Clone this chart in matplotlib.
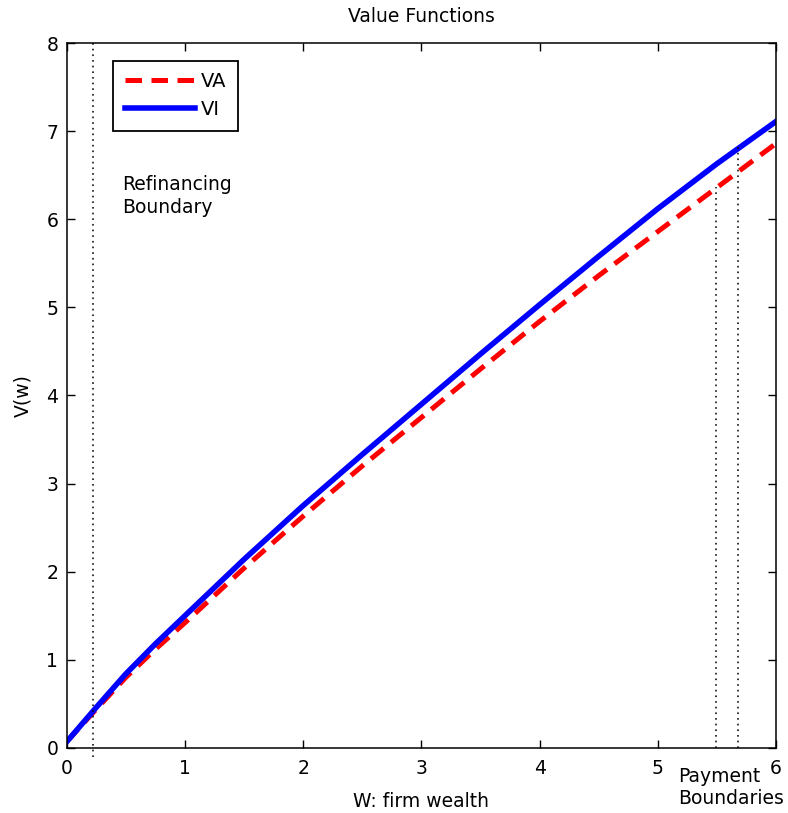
import numpy as np
import matplotlib
matplotlib.use("Agg")
import matplotlib.pyplot as plt

# firm wealth grid and value functions
w = [0.0, 0.25, 0.5, 0.75, 1.0, 1.5, 2.0, 2.5, 3.0, 3.5, 4.0, 4.5, 5.0, 5.5, 6.0]
VI = [0.07, 0.46, 0.84, 1.18, 1.50, 2.14, 2.75, 3.33, 3.90, 4.47, 5.03, 5.58, 6.12, 6.63, 7.11]
VA = [0.07, 0.44, 0.80, 1.12, 1.42, 2.04, 2.63, 3.20, 3.75, 4.30, 4.84, 5.36, 5.86, 6.36, 6.86]

# boundaries
refi_x = 0.22
pay_x = [5.49, 5.68]
pay_top = [6.37, 6.84]

xticks = [0, 1, 2, 3, 4, 5, 6]
yticks = [0, 1, 2, 3, 4, 5, 6, 7, 8]

plt.rcParams['font.family'] = ['DejaVu Sans']
plt.rcParams['font.size'] = 13.5

fig = plt.figure(figsize=(7.88, 8.13), dpi=100)
ax = fig.add_axes([0.0846, 0.080, 0.9002, 0.8671])

ax.plot(w, VA, color='red', lw=3.6, dashes=(3.3, 1.9), label='VA')
ax.plot(w, VI, color='blue', lw=4.0, label='VI')

# dotted boundary lines
dots = dict(color='black', lw=1.1, dashes=(1.1, 2.6))
ax.plot([refi_x, refi_x], [-0.1, 8], clip_on=False, **dots)
for x, top in zip(pay_x, pay_top):
    ax.plot([x, x], [0, top], **dots)

ax.text(0.47, 6.50, 'Refinancing\nBoundary', ha='left', va='top', linespacing=1.25)
# two separate lines so "Payment" sits beside the "6" tick label
ax.text(5.17, -0.22, 'Payment', ha='left', va='top', clip_on=False)
ax.text(5.17, -0.47, 'Boundaries', ha='left', va='top', clip_on=False)

ax.set_xlim(0, 6)
ax.set_ylim(0, 8)
ax.set_xticks(xticks)
ax.set_yticks(yticks)
ax.tick_params(direction='in', length=6, width=1, top=True, right=True,
               labelsize=13.5)
ax.tick_params(axis='x', pad=8)
ax.tick_params(axis='y', pad=6)
for s in ax.spines.values():
    s.set_linewidth(1.1)

ax.set_title('Value Functions', fontsize=13.5, pad=15)
ax.set_xlabel('W: firm wealth', labelpad=10)
ax.set_ylabel('V(w)', labelpad=10)

leg = ax.legend(loc='upper left', bbox_to_anchor=(0.066, 0.975), fancybox=False,
                framealpha=1, edgecolor='black', fontsize=14, handlelength=3.6,
                handletextpad=0.3, borderpad=0.6, labelspacing=0.45,
                borderaxespad=0)
leg.get_frame().set_linewidth(1.3)

fig.savefig('out.png', dpi=100)
